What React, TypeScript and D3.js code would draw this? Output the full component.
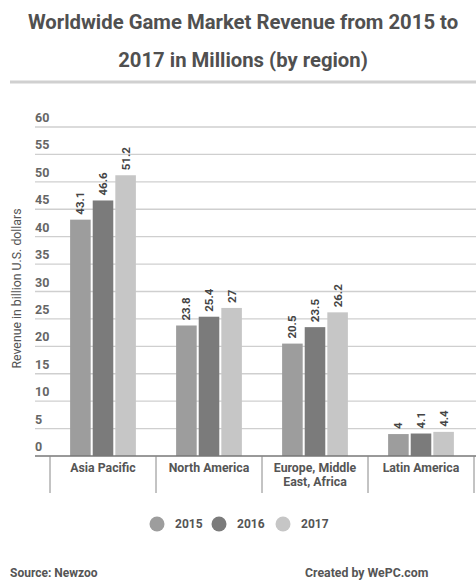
import { useEffect, useRef } from 'react';
import * as d3 from 'd3';

const REGIONS = ['Asia Pacific', 'North America', 'Europe, Middle East, Africa', 'Latin America'];
const REGION_LINES = [['Asia Pacific'], ['North America'], ['Europe, Middle', 'East, Africa'], ['Latin America']];
const YEARS = ['2015', '2016', '2017'];
const VALUES_2015 = [43.1, 23.8, 20.5, 4];
const VALUES_2016 = [46.6, 25.4, 23.5, 4.1];
const VALUES_2017 = [51.2, 27, 26.2, 4.4];
const Y_TICKS = [0, 5, 10, 15, 20, 25, 30, 35, 40, 45, 50, 55, 60];
const COLORS = ['#9d9d9d', '#7b7b7b', '#c6c6c6'];

const WIDTH = 476;
const HEIGHT = 584;
const PLOT = { left: 50, right: 474, top: 127, bottom: 456 };
const FONT = 'Roboto, "Noto Sans", sans-serif';

export default function App() {
  const svgRef = useRef<SVGSVGElement>(null);

  useEffect(() => {
    if (!svgRef.current) return;
    const svg = d3.select(svgRef.current);
    svg.selectAll('*').remove();

    const series = [VALUES_2015, VALUES_2016, VALUES_2017];

    const x0 = d3.scaleBand().domain(REGIONS).range([PLOT.left, PLOT.right]).paddingInner(0).paddingOuter(0);
    const x1 = d3
      .scaleBand()
      .domain(YEARS)
      .range([0, x0.bandwidth()])
      .paddingInner(0.09)
      .paddingOuter(0.89);
    const y = d3.scaleLinear().domain([0, 60]).range([PLOT.bottom, PLOT.top]);

    // Title
    const titleLines = ['Worldwide Game Market Revenue from 2015 to', '2017 in Millions (by region)'];
    titleLines.forEach((t, i) => {
      svg
        .append('text')
        .attr('x', WIDTH / 2 + 5)
        .attr('y', 29 + i * 38)
        .attr('text-anchor', 'middle')
        .attr('font-size', 20.3)
        .attr('font-weight', 'bold')
        .attr('fill', '#505050')
        .text(t);
    });

    // Separator under title
    svg
      .append('line')
      .attr('x1', 10)
      .attr('x2', WIDTH)
      .attr('y1', 82)
      .attr('y2', 82)
      .attr('stroke', '#d0d0d0')
      .attr('stroke-width', 3);

    // Gridlines + tick labels
    Y_TICKS.forEach((t) => {
      if (t > 0) {
        svg
          .append('line')
          .attr('x1', 35)
          .attr('x2', WIDTH)
          .attr('y1', y(t))
          .attr('y2', y(t))
          .attr('stroke', '#cfcfcf')
          .attr('stroke-width', 1.3);
      }
      svg
        .append('text')
        .attr('x', 35)
        .attr('y', y(t) - 5)
        .attr('font-size', 12.5)
        .attr('font-weight', 'bold')
        .attr('fill', '#666')
        .text(t);
    });

    // Y axis title
    svg
      .append('text')
      .attr('transform', `translate(21,${(PLOT.top + PLOT.bottom) / 2 - 3}) rotate(-90)`)
      .attr('text-anchor', 'middle')
      .attr('font-size', 12.3)
      .attr('fill', '#555')
      .text('Revenue in billion U.S. dollars');

    // Bars
    REGIONS.forEach((region, ri) => {
      series.forEach((vals, si) => {
        const bx = x0(region)! + x1(YEARS[si])!;
        const v = vals[ri];
        svg
          .append('rect')
          .attr('x', bx)
          .attr('y', y(v))
          .attr('width', x1.bandwidth())
          .attr('height', y(0) - y(v))
          .attr('fill', COLORS[si]);
        svg
          .append('text')
          .attr('transform', `translate(${bx + x1.bandwidth() / 2 + 4},${y(v) - 5}) rotate(-90)`)
          .attr('font-size', 11.5)
          .attr('font-weight', 'bold')
          .attr('fill', '#444')
          .text(String(v));
      });
    });

    // Baseline
    svg
      .append('line')
      .attr('x1', 35)
      .attr('x2', WIDTH)
      .attr('y1', y(0))
      .attr('y2', y(0))
      .attr('stroke', '#777')
      .attr('stroke-width', 1.5);

    // Category separators
    const seps = REGIONS.map((r) => x0(r)!).concat([PLOT.right]);
    seps.forEach((sx) => {
      svg
        .append('line')
        .attr('x1', sx)
        .attr('x2', sx)
        .attr('y1', y(0))
        .attr('y2', 493)
        .attr('stroke', '#888')
        .attr('stroke-width', 1);
    });

    // Category labels
    REGIONS.forEach((region, ri) => {
      const cx = x0(region)! + x0.bandwidth() / 2;
      REGION_LINES[ri].forEach((line, li) => {
        svg
          .append('text')
          .attr('x', cx)
          .attr('y', 472 + li * 14)
          .attr('text-anchor', 'middle')
          .attr('font-size', 12.3)
          .attr('font-weight', 'bold')
          .attr('fill', '#555')
          .text(line);
      });
    });

    // Legend
    const legendX = [157, 219, 283];
    YEARS.forEach((yr, i) => {
      svg
        .append('circle')
        .attr('cx', legendX[i])
        .attr('cy', 524)
        .attr('r', 7.5)
        .attr('fill', COLORS[i]);
      svg
        .append('text')
        .attr('x', legendX[i] + 18)
        .attr('y', 528)
        .attr('font-size', 12)
        .attr('font-weight', 'bold')
        .attr('fill', '#555')
        .text(yr);
    });

    // Footer
    svg
      .append('text')
      .attr('x', 10)
      .attr('y', 577)
      .attr('font-size', 12)
      .attr('font-weight', 'bold')
      .attr('fill', '#555')
      .text('Source: Newzoo');
    svg
      .append('text')
      .attr('x', 305)
      .attr('y', 577)
      .attr('font-size', 12.3)
      .attr('font-weight', 'bold')
      .attr('fill', '#555')
      .text('Created by WePC.com');
  }, []);

  return (
    <svg
      ref={svgRef}
      width={WIDTH}
      height={HEIGHT}
      style={{ position: 'absolute', left: 0, top: 0, background: '#fff', fontFamily: FONT }}
    />
  );
}
